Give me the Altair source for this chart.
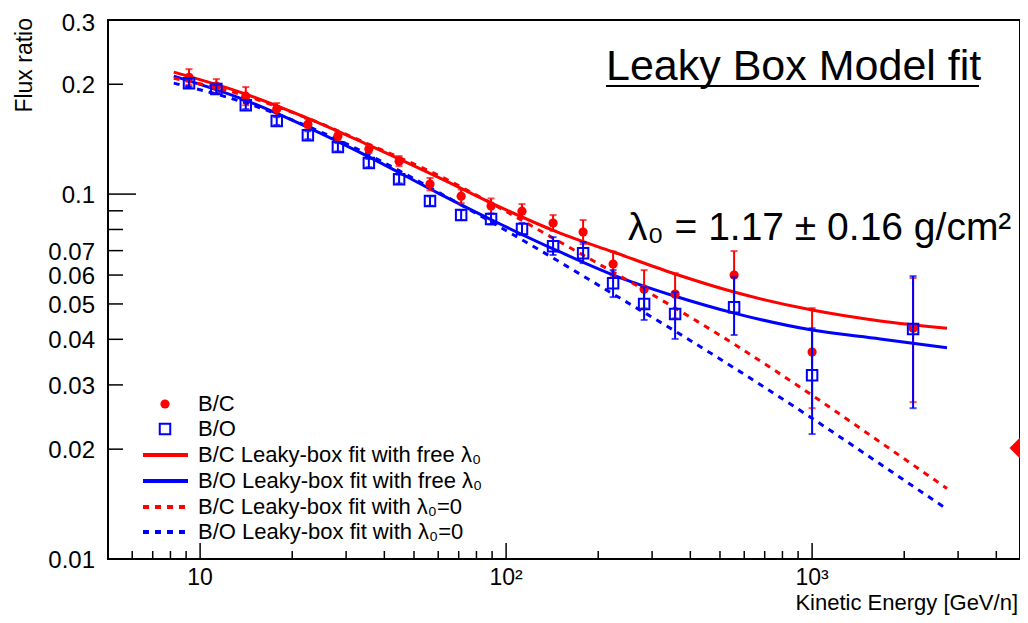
import altair as alt
import pandas as pd

# ---------------- data ----------------
energy = [9.2, 11.3, 14.1, 17.8, 22.5, 28.2, 35.6, 44.7, 56.4, 71.3, 89.3, 112.7,
          142.4, 178.5, 223.7, 282.5, 356.7, 556, 1000, 2138]

bc = [0.209, 0.1977, 0.1855, 0.171, 0.1555, 0.1442, 0.1329, 0.1231, 0.1065, 0.0987,
      0.0927, 0.0898, 0.0833, 0.0787, 0.0643, 0.0549, 0.0532, 0.060, 0.0369, 0.0429]
bc_lo = [0.199, 0.1892, 0.1752, 0.1636, 0.1506, 0.1403, 0.1296, 0.1193, 0.1024, 0.0944,
         0.0883, 0.0859, 0.0793, 0.0730, 0.0597, 0.0487, 0.0457, 0.0506, 0.0259, 0.0269]
bc_hi = [0.220, 0.2066, 0.1965, 0.1776, 0.1606, 0.1482, 0.1364, 0.1271, 0.1107, 0.1030,
         0.0973, 0.0939, 0.0876, 0.0849, 0.0696, 0.0619, 0.0607, 0.0698, 0.0487, 0.0589]

bo = [0.2014, 0.194, 0.1753, 0.1585, 0.145, 0.1345, 0.1216, 0.1099, 0.0957, 0.0876,
      0.0854, 0.0802, 0.072, 0.0689, 0.0570, 0.0500, 0.0469, 0.049, 0.0319, 0.0427]
bo_lo = [0.1965, 0.189, 0.171, 0.1546, 0.1414, 0.131, 0.1185, 0.107, 0.0929, 0.0849,
         0.0826, 0.0772, 0.0681, 0.0647, 0.0522, 0.0452, 0.0401, 0.0411, 0.0220, 0.0259]
bo_hi = [0.2064, 0.199, 0.1797, 0.1625, 0.1486, 0.138, 0.1248, 0.113, 0.0986, 0.0904,
         0.0884, 0.0834, 0.0762, 0.0739, 0.0619, 0.0556, 0.0539, 0.0592, 0.0429, 0.0596]

fit_energy = [8.2, 13.5, 22.4, 36.8, 60.8, 95.6, 150, 224, 357, 556, 1000, 1670, 2760]
bc_free = [0.2159, 0.1903, 0.1615, 0.1345, 0.1106, 0.0921, 0.0782, 0.0694, 0.0604,
           0.0539, 0.0481, 0.0449, 0.0429]
bo_free = [0.2105, 0.1832, 0.1526, 0.1247, 0.1000, 0.0828, 0.0694, 0.0600, 0.0525,
           0.0472, 0.0424, 0.0401, 0.0379]
bc_zero = [0.2078, 0.1879, 0.1615, 0.1353, 0.1120, 0.0915, 0.0739, 0.0611, 0.0487,
           0.0388, 0.0281, 0.0209, 0.0156]
bo_zero = [0.2014, 0.1798, 0.1536, 0.1263, 0.1006, 0.0812, 0.0651, 0.0532, 0.0421,
           0.0334, 0.0243, 0.0182, 0.0137]

x_major = [10, 100, 1000]
x_major_labels = ["10", "10²", "10³"]
x_minor = [6, 7, 8, 9, 20, 30, 40, 50, 60, 70, 80, 90,
           200, 300, 400, 500, 600, 700, 800, 900, 2000, 3000, 4000]
y_major = [0.1]
y_minor = [0.02, 0.03, 0.04, 0.05, 0.06, 0.07, 0.08, 0.09, 0.2]
y_label_values = [0.01, 0.02, 0.03, 0.04, 0.05, 0.06, 0.07, 0.1, 0.2]
y_label_texts = ["0.01", "0.02", "0.03", "0.04", "0.05", "0.06", "0.07", "0.1", "0.2"]
y_top_value = [0.3]
y_top_text = ["0.3"]

legend_labels = ["B/C", "B/O",
                 "B/C Leaky-box fit with free λ₀",
                 "B/O Leaky-box fit with free λ₀",
                 "B/C Leaky-box fit with λ₀=0",
                 "B/O Leaky-box fit with λ₀=0"]

# ---------------- build ----------------
FONT = "Liberation Sans"
RED = "#ff0000"
BLUE = "#0000ff"
W, H = 912, 539

xs = alt.Scale(type="log", domain=[5, 4780], nice=False)
ys = alt.Scale(type="log", domain=[0.01, 0.3], nice=False)

pts = pd.DataFrame({"E": energy, "bc": bc, "bc_lo": bc_lo, "bc_hi": bc_hi,
                    "bo": bo, "bo_lo": bo_lo, "bo_hi": bo_hi})
fits = pd.DataFrame({"E": fit_energy, "bc_free": bc_free, "bo_free": bo_free,
                     "bc_zero": bc_zero, "bo_zero": bo_zero})

base_fit = alt.Chart(fits)


def fit_line(field, color, dash=None):
    kw = dict(color=color, strokeWidth=3, interpolate="monotone")
    if dash:
        kw["strokeDash"] = dash
    return base_fit.mark_line(**kw).encode(
        x=alt.X("E:Q", scale=xs, axis=None),
        y=alt.Y(f"{field}:Q", scale=ys, axis=None))


lines = [fit_line("bc_free", RED),
         fit_line("bo_free", BLUE),
         fit_line("bc_zero", RED, [6, 6]),
         fit_line("bo_zero", BLUE, [6, 6])]

base_pts = alt.Chart(pts)


def errbars(lo, hi, color):
    bar = base_pts.mark_rule(color=color, strokeWidth=2).encode(
        x=alt.X("E:Q", scale=xs, axis=None),
        y=alt.Y(f"{lo}:Q", scale=ys, axis=None), y2=f"{hi}:Q")
    cap_lo = base_pts.mark_tick(color=color, orient="horizontal", size=7, thickness=2).encode(
        x=alt.X("E:Q", scale=xs, axis=None), y=alt.Y(f"{lo}:Q", scale=ys, axis=None))
    cap_hi = base_pts.mark_tick(color=color, orient="horizontal", size=7, thickness=2).encode(
        x=alt.X("E:Q", scale=xs, axis=None), y=alt.Y(f"{hi}:Q", scale=ys, axis=None))
    return [bar, cap_lo, cap_hi]


red_pts = base_pts.mark_point(shape="circle", filled=True, color=RED, size=85, opacity=1).encode(
    x=alt.X("E:Q", scale=xs, axis=None), y=alt.Y("bc:Q", scale=ys, axis=None))
blue_pts = base_pts.mark_point(shape="square", filled=False, color=BLUE, size=110,
                               strokeWidth=2, opacity=1).encode(
    x=alt.X("E:Q", scale=xs, axis=None), y=alt.Y("bo:Q", scale=ys, axis=None))


# inner ticks
def xticks(vals, length):
    return alt.Chart(pd.DataFrame({"v": vals})).mark_rule(color="black", strokeWidth=1.5).encode(
        x=alt.X("v:Q", scale=xs, axis=None), y=alt.value(H), y2=alt.value(H - length))


def yticks(vals, length):
    return alt.Chart(pd.DataFrame({"v": vals})).mark_rule(color="black", strokeWidth=1.5).encode(
        y=alt.Y("v:Q", scale=ys, axis=None), x=alt.value(0), x2=alt.value(length))


ticks = [xticks(x_major, 16), xticks(x_minor, 8), yticks(y_major, 28), yticks(y_minor, 15)]

# tick labels, placed through the scales
xlab = alt.Chart(pd.DataFrame({"v": x_major, "t": x_major_labels})).mark_text(
    align="center", baseline="alphabetic", font=FONT, fontSize=23, color="black").encode(
    x=alt.X("v:Q", scale=xs, axis=None), y=alt.value(H + 26.3), text="t:N")
ylab = alt.Chart(pd.DataFrame({"v": y_label_values, "t": y_label_texts})).mark_text(
    align="right", baseline="middle", font=FONT, fontSize=24, color="black", dy=2).encode(
    y=alt.Y("v:Q", scale=ys, axis=None), x=alt.value(-13), text="t:N")
ylab_top = alt.Chart(pd.DataFrame({"v": y_top_value, "t": y_top_text})).mark_text(
    align="right", baseline="middle", font=FONT, fontSize=24, color="black", dy=3.5).encode(
    y=alt.Y("v:Q", scale=ys, axis=None), x=alt.value(-13), text="t:N")

dummy = alt.Chart(pd.DataFrame({"a": [0]}))
xtitle = dummy.mark_text(align="right", baseline="alphabetic", font=FONT, fontSize=22,
                         color="black").encode(
    x=alt.value(910), y=alt.value(H + 51.2), text=alt.value("Kinetic Energy [GeV/n]"))
ytitle = dummy.mark_text(align="right", baseline="alphabetic", font=FONT, fontSize=23,
                         angle=270, color="black").encode(
    x=alt.value(-76), y=alt.value(-2), text=alt.value("Flux ratio"))

# legend (drawn inside the frame)
rows_y = [384, 409, 435, 461, 487, 512]
leg = pd.DataFrame({"label": legend_labels, "py": rows_y})
leg_text = alt.Chart(leg).mark_text(align="left", baseline="middle", font=FONT,
                                    fontSize=22, color="black").encode(
    x=alt.value(90), y=alt.Y("py:Q", scale=None), text="label:N")
leg_marks = [
    dummy.mark_point(shape="circle", filled=True, color=RED, size=85, opacity=1).encode(
        x=alt.value(57), y=alt.value(rows_y[0])),
    dummy.mark_point(shape="square", filled=False, color=BLUE, size=110, strokeWidth=2,
                     opacity=1).encode(x=alt.value(57), y=alt.value(rows_y[1])),
    dummy.mark_rule(color=RED, strokeWidth=4).encode(
        x=alt.value(35), x2=alt.value(80), y=alt.value(rows_y[2])),
    dummy.mark_rule(color=BLUE, strokeWidth=4).encode(
        x=alt.value(35), x2=alt.value(80), y=alt.value(rows_y[3])),
    dummy.mark_rule(color=RED, strokeWidth=4, strokeDash=[6, 6]).encode(
        x=alt.value(35), x2=alt.value(80), y=alt.value(rows_y[4])),
    dummy.mark_rule(color=BLUE, strokeWidth=4, strokeDash=[6, 6]).encode(
        x=alt.value(35), x2=alt.value(80), y=alt.value(rows_y[5])),
]

# annotations
title_txt = dummy.mark_text(align="left", baseline="alphabetic", font=FONT, fontSize=43,
                            color="black").encode(
    x=alt.value(498), y=alt.value(60), text=alt.value("Leaky Box Model fit"))
underline = dummy.mark_rule(color="black", strokeWidth=2).encode(
    x=alt.value(498), x2=alt.value(871), y=alt.value(66))
lam_txt = dummy.mark_text(align="left", baseline="alphabetic", font=FONT, fontSize=39,
                          color="black").encode(
    x=alt.value(520), y=alt.value(220), text=alt.value("λ₀ = 1.17 ± 0.16 g/cm²"))
diamond = dummy.mark_point(shape="diamond", filled=True, color=RED, size=1369, opacity=1).encode(
    x=alt.value(920), y=alt.value(428))

layers = (lines + errbars("bc_lo", "bc_hi", RED) + [red_pts]
          + errbars("bo_lo", "bo_hi", BLUE) + [blue_pts]
          + ticks + [xlab, ylab, ylab_top, xtitle, ytitle, leg_text] + leg_marks
          + [title_txt, underline, lam_txt, diamond])

chart = alt.layer(*layers).properties(
    width=W, height=H,
    padding={"left": 100, "top": 12, "right": 0, "bottom": 56},
    autosize=alt.AutoSizeParams(type="none"),
    background="white",
).configure_view(stroke="black", strokeWidth=2)

chart.save("out.html", embed_options={"renderer": "svg", "actions": False})
